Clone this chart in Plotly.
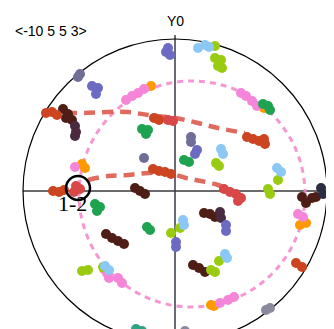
import plotly.graph_objects as go

# ---- data (projection coordinates, circle radius = 152) ----
R = 152
dark_brown_x = [-112, -107, -109, -103, -40, -35, -30, -69, -63, -57, -51, 29, 35, 40, 18, 24, 30, 127, 131, 137, 141]
dark_brown_y = [82, 77, 73, 71, 3, 0, -3, -43, -47, -50, -53, -22, -23, -26, -74, -77, -81, -6, -12, -7, -6]
dark_purple_x = [-100, -99, -100, 45, 46]
dark_purple_y = [65, 59, 55, -21, -27]
navy_x = [146, 148]
navy_y = [3, -3]
red_orange_x = [-129, -123, -118, -21, -16, 72, 78, 84, 89, 90, -22, -16, -10, -4, 121, 127, -122, -116, -111]
red_orange_y = [78, 79, 76, 73, 71, 54, 52, 50, 52, 47, 22, 20, 19, 17, -72, -76, 0, -1, 1]
crimson_x = [-7, -2, -99, -95, -101, 49, 55, 61, 66, 63]
crimson_y = [71, 70, 5, 2, -1, 2, -1, -3, -7, -10]
orange_x = [-24, -93, -90, 125, 131, -71, 36, 39, 89]
orange_y = [105, 27, 23, -34, -32, -78, -114, -115, 83]
pink_x = [-49, -43, -37, -31, 66, 71, 77, 82, 123, 128, -68, -66, -57, -53, 45, 53, 59, -100]
pink_y = [91, 95, 98, 102, 98, 95, 90, 85, -23, -26, -82, -87, -87, -92, -112, -109, -106, 24]
green_x = [88, 93, 95, -33, -27, -29, 9, 14, -80, -75, -78, -28, -25]
green_y = [87, 85, 81, 62, 61, 57, 31, 29, -13, -16, -20, -36, -39]
ygreen_x = [40, 46, 43, 47, 41, 44, 93, 95, 103, -4, 5, -93, -87, 36, 40, 44, -72, 40]
ygreen_y = [133, 131, 125, 123, 28, 25, 2, -3, 11, -42, -37, -80, -79, -79, -81, -70, -76, 145]
lblue_x = [30, 34, 23, 46, 48, 102, 106, 8, 9, 50, 52, -70, -66]
lblue_y = [146, 144, 143, 42, 37, 23, 19, -29, -34, -63, -67, -75, -79]
slate_x = [-7, -5, -9, -83, -77, -79, 22, 20, 51, 51, 1, 1]
slate_y = [143, 136, 139, 105, 103, 97, 41, 37, -34, -40, -51, -56]
graypurple_x = [-95, -97, 16, 16, -31]
graypurple_y = [117, 114, 54, 49, 33]
teal_x = [-39, -33]
teal_y = [-138, -140]
gray_x = [10, 14, 91, 95]
gray_y = [-140, -143, -119, -117]

upper_arc_x = [-127, -92, -67, -47, -27, 0, 23, 43, 70]
upper_arc_y = [78, 78, 79, 79, 76, 73, 68, 63, 58]
lower_arc_x = [-87, -67, -47, -27, -7, 11, 26, 43, 58]
lower_arc_y = [11, 15, 16, 18, 18, 13, 10, 6, 0]

pink_circle_center = (17, -3)
pink_circle_r = 113
ring_center = (-97, 3)
ring_r = 12
ring_label = "1-2"
ring_label_pos = (-103, -12)
direction_label = "<-10 5 5 3>"
y_label = "Y0"
x_label = "X0"

fig = go.Figure()

# red dashed arcs
for ax, ay in [(upper_arc_x, upper_arc_y), (lower_arc_x, lower_arc_y)]:
    fig.add_trace(go.Scatter(x=ax, y=ay, mode="lines",
                             line=dict(color="rgba(218,80,66,0.85)", width=4.5, dash="11px,7px", shape="spline"),
                             hoverinfo="skip", showlegend=False))

series = [
    (dark_brown_x, dark_brown_y, "#4e1e16"),
    (dark_purple_x, dark_purple_y, "#4a2a40"),
    (navy_x, navy_y, "#2c2c44"),
    (red_orange_x, red_orange_y, "#cc4420"),
    (crimson_x, crimson_y, "#d84848"),
    (orange_x, orange_y, "#ff9900"),
    (pink_x, pink_y, "#f585d8"),
    (green_x, green_y, "#1ea350"),
    (ygreen_x, ygreen_y, "#99cc11"),
    (lblue_x, lblue_y, "#8cc8f5"),
    (slate_x, slate_y, "#6b6bc2"),
    (graypurple_x, graypurple_y, "#6e6e98"),
    (teal_x, teal_y, "#2fa383"),
    (gray_x, gray_y, "#8a8a9c"),
]
for sx, sy, col in series:
    fig.add_trace(go.Scatter(x=sx, y=sy, mode="markers",
                             marker=dict(color=col, size=10, symbol="circle", line=dict(width=0)),
                             hoverinfo="skip", showlegend=False))

shapes = [
    dict(type="line", x0=-R, x1=R, y0=0, y1=0, line=dict(color="#3a3a3a", width=1.5), layer="below"),
    dict(type="line", x0=0, x1=0, y0=-R, y1=R + 4, line=dict(color="#3a3a4a", width=1.5), layer="below"),
    dict(type="circle", x0=-R, x1=R, y0=-R, y1=R, line=dict(color="black", width=1.2), layer="below"),
    dict(type="circle",
         x0=pink_circle_center[0] - pink_circle_r, x1=pink_circle_center[0] + pink_circle_r,
         y0=pink_circle_center[1] - pink_circle_r, y1=pink_circle_center[1] + pink_circle_r,
         line=dict(color="rgba(245,140,205,0.9)", width=3, dash="6px,5px"), layer="below"),
    dict(type="circle",
         x0=ring_center[0] - ring_r, x1=ring_center[0] + ring_r,
         y0=ring_center[1] - ring_r, y1=ring_center[1] + ring_r,
         line=dict(color="black", width=2.5), layer="above"),
]

annotations = [
    dict(x=-162, y=160, text=direction_label, showarrow=False, xanchor="left", yanchor="middle",
         font=dict(family="Liberation Sans, Arial", size=14, color="black")),
    dict(x=0, y=170, text=y_label, showarrow=False, xanchor="center", yanchor="middle",
         font=dict(family="Liberation Sans, Arial", size=14, color="black")),
    dict(x=153, y=8, text=x_label, showarrow=False, xanchor="left", yanchor="middle",
         font=dict(family="Liberation Sans, Arial", size=14, color="black")),
    dict(x=ring_label_pos[0], y=ring_label_pos[1], text=ring_label, showarrow=False,
         xanchor="center", yanchor="middle",
         font=dict(family="Liberation Serif, Times New Roman, serif", size=22, color="black")),
]

fig.update_layout(
    width=334, height=329,
    margin=dict(l=0, r=0, t=0, b=0),
    paper_bgcolor="white", plot_bgcolor="white",
    xaxis=dict(range=[-167, 167], visible=False, fixedrange=True),
    yaxis=dict(range=[-146, 183], visible=False, fixedrange=True),
    shapes=shapes, annotations=annotations, showlegend=False,
)
fig.write_html("out.html")
